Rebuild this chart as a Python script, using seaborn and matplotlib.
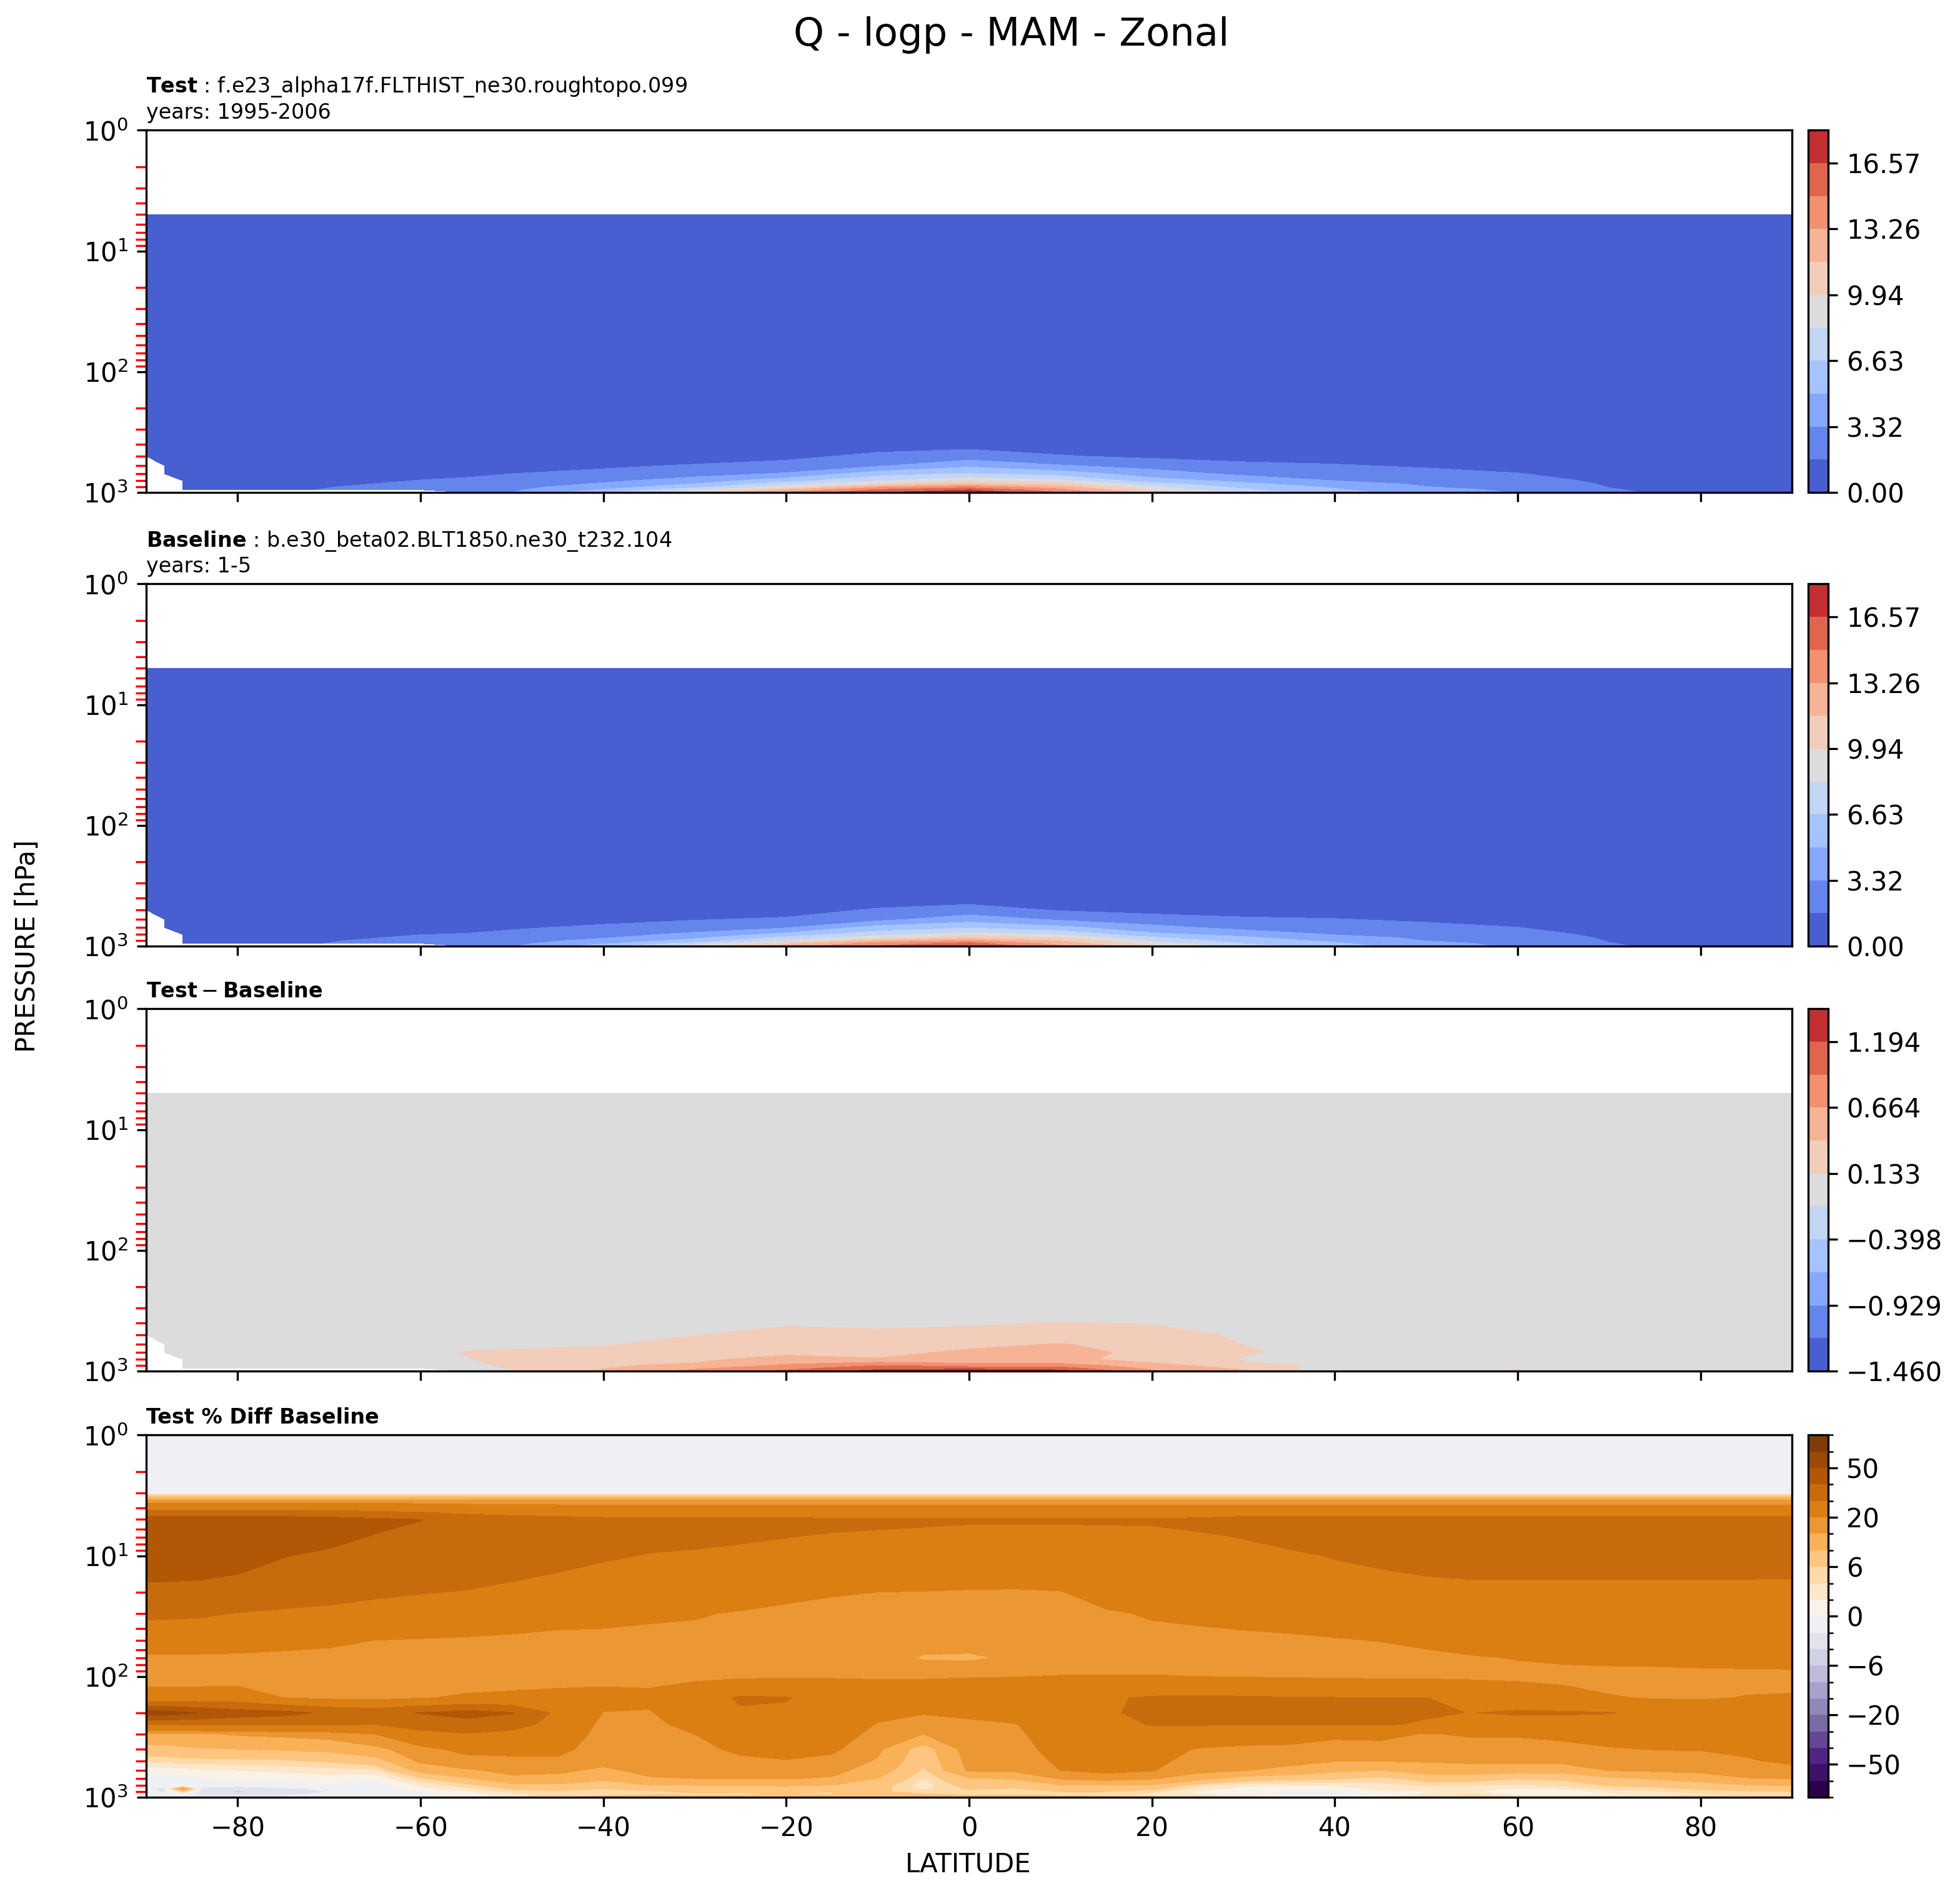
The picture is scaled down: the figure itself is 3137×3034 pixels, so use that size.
import numpy as np
import seaborn as sns
import matplotlib.pyplot as plt
from matplotlib.colors import BoundaryNorm
from matplotlib.ticker import FuncFormatter

sns.set_style("ticks", {"axes.edgecolor": "black", "xtick.color": "black", "ytick.color": "black",
                        "axes.labelcolor": "black", "text.color": "black"})
plt.rcParams["font.family"] = ["DejaVu Sans"]

TITLE = "Q - logp - MAM - Zonal"
TEST_CASE = "f.e23_alpha17f.FLTHIST_ne30.roughtopo.099"
TEST_YEARS = "1995-2006"
BASE_CASE = "b.e30_beta02.BLT1850.ne30_t232.104"
BASE_YEARS = "1-5"

nan = np.nan

# zonal mean specific humidity of the test case [g/kg], one profile per latitude
Q_LAT = [-90, -88, -86, -84, -80, -70, -60, -55, -50, -40, -30, -20, -10, 0, 10, 20, 30, 40, 50, 60, 70, 80, 90]
Q_LEV = [5, 10, 50, 100, 200, 300, 400, 500, 600, 700, 800, 850, 900, 950, 1000]
Q_TEST = {
    -90: [0.005, 0.005, 0.005, 0.005, 0.008, 0.02, 0.05, 0.10, nan, nan, nan, nan, nan, nan, nan],
    -88: [0.005, 0.005, 0.005, 0.005, 0.008, 0.02, 0.05, 0.10, 0.18, 0.30, nan, nan, nan, nan, nan],
    -86: [0.005, 0.005, 0.005, 0.005, 0.008, 0.02, 0.05, 0.11, 0.20, 0.35, 0.55, 0.65, 0.75, 0.85, nan],
    -84: [0.005, 0.005, 0.005, 0.005, 0.008, 0.02, 0.05, 0.11, 0.22, 0.40, 0.60, 0.72, 0.85, 0.95, nan],
    -80: [0.005, 0.005, 0.005, 0.005, 0.009, 0.025, 0.05, 0.12, 0.25, 0.45, 0.70, 0.85, 1.00, 1.10, nan],
    -70: [0.005, 0.005, 0.005, 0.005, 0.012, 0.04, 0.10, 0.20, 0.45, 0.80, 1.15, 1.40, 1.62, 1.75, nan],
    -60: [0.005, 0.005, 0.005, 0.005, 0.016, 0.06, 0.16, 0.30, 0.70, 1.20, 1.72, 1.95, 2.15, 2.30, nan],
    -55: [0.005, 0.005, 0.005, 0.005, 0.018, 0.075, 0.20, 0.38, 0.85, 1.45, 1.85, 2.10, 2.40, 2.60, 2.80],
    -50: [0.005, 0.005, 0.005, 0.005, 0.02, 0.09, 0.25, 0.45, 1.00, 1.66, 2.20, 2.50, 2.80, 3.05, 3.30],
    -40: [0.005, 0.005, 0.005, 0.005, 0.03, 0.14, 0.35, 0.65, 1.40, 2.10, 3.00, 3.50, 4.20, 5.10, 6.30],
    -30: [0.005, 0.005, 0.005, 0.005, 0.04, 0.20, 0.55, 0.95, 1.80, 2.70, 4.10, 5.00, 6.00, 7.90, 10.0],
    -20: [0.005, 0.005, 0.005, 0.005, 0.05, 0.30, 0.80, 1.35, 2.10, 3.50, 6.00, 7.60, 9.00, 11.8, 13.5],
    -10: [0.005, 0.005, 0.005, 0.005, 0.06, 0.40, 1.10, 1.95, 3.10, 5.90, 8.10, 9.90, 12.8, 15.1, 16.4],
    0:   [0.005, 0.005, 0.005, 0.005, 0.065, 0.45, 1.10, 2.50, 4.60, 6.80, 9.70, 11.6, 14.1, 16.5, 18.2],
    10:  [0.005, 0.005, 0.005, 0.005, 0.06, 0.40, 1.00, 1.75, 3.45, 5.90, 8.60, 10.5, 12.2, 13.7, 14.9],
    20:  [0.005, 0.005, 0.005, 0.005, 0.05, 0.30, 0.70, 1.35, 2.70, 4.10, 5.70, 7.20, 8.60, 9.70, 11.0],
    30:  [0.005, 0.005, 0.005, 0.005, 0.04, 0.22, 0.55, 1.20, 2.00, 2.95, 4.50, 5.40, 6.00, 6.90, 8.00],
    40:  [0.005, 0.005, 0.005, 0.005, 0.03, 0.17, 0.45, 1.00, 1.80, 2.70, 3.30, 3.95, 4.70, 5.20, 5.60],
    50:  [0.005, 0.005, 0.005, 0.005, 0.02, 0.12, 0.35, 0.75, 1.45, 2.20, 2.80, 3.10, 3.35, 3.80, 4.20],
    60:  [0.005, 0.005, 0.005, 0.005, 0.015, 0.09, 0.25, 0.55, 1.10, 1.72, 2.30, 2.60, 2.85, 3.05, 3.20],
    70:  [0.005, 0.005, 0.005, 0.005, 0.01, 0.06, 0.15, 0.35, 0.70, 1.05, 1.35, 1.50, 1.62, 1.75, 1.85],
    80:  [0.005, 0.005, 0.005, 0.005, 0.008, 0.04, 0.08, 0.20, 0.40, 0.65, 0.90, 1.00, 1.10, 1.20, 1.30],
    90:  [0.005, 0.005, 0.005, 0.005, 0.008, 0.03, 0.06, 0.15, 0.30, 0.50, 0.75, 0.85, 0.95, 1.05, 1.10],
}

# test minus baseline [g/kg]
Q_DIFF = {
    -90: [0, 0, 0, 0, 0, 0, 0.0, 0.0, nan, nan, nan, nan, nan, nan, nan],
    -88: [0, 0, 0, 0, 0, 0, 0.0, 0.0, 0.01, 0.01, nan, nan, nan, nan, nan],
    -86: [0, 0, 0, 0, 0, 0, 0.0, 0.0, 0.01, 0.01, 0.02, 0.02, 0.02, 0.02, nan],
    -84: [0, 0, 0, 0, 0, 0, 0.0, 0.0, 0.01, 0.01, 0.02, 0.02, 0.02, 0.02, nan],
    -80: [0, 0, 0, 0, 0, 0, 0.0, 0.0, 0.01, 0.02, 0.02, 0.03, 0.03, 0.03, nan],
    -70: [0, 0, 0, 0, 0, 0, 0.0, 0.01, 0.02, 0.03, 0.04, 0.04, 0.05, 0.05, nan],
    -60: [0, 0, 0, 0, 0, 0.005, 0.01, 0.02, 0.04, 0.07, 0.08, 0.08, 0.07, 0.06, nan],
    -55: [0, 0, 0, 0, 0, 0.01, 0.02, 0.04, 0.09, 0.145, 0.12, 0.10, 0.08, 0.06, 0.05],
    -50: [0, 0, 0, 0, 0, 0.01, 0.03, 0.05, 0.09, 0.16, 0.20, 0.19, 0.17, 0.145, 0.125],
    -40: [0, 0, 0, 0, 0, 0.015, 0.04, 0.08, 0.115, 0.20, 0.30, 0.34, 0.37, 0.39, 0.42],
    -30: [0, 0, 0, 0, 0, 0.02, 0.06, 0.125, 0.22, 0.30, 0.36, 0.39, 0.45, 0.62, 0.75],
    -20: [0, 0, 0, 0, 0, 0.03, 0.11, 0.20, 0.27, 0.35, 0.47, 0.58, 0.72, 0.85, 0.98],
    -10: [0, 0, 0, 0, 0, 0.03, 0.10, 0.17, 0.25, 0.31, 0.42, 0.68, 0.93, 1.10, 1.30],
    0:   [0, 0, 0, 0, 0, 0.03, 0.11, 0.20, 0.33, 0.45, 0.55, 0.62, 0.80, 1.10, 1.45],
    10:  [0, 0, 0, 0, 0, 0.03, 0.14, 0.25, 0.41, 0.50, 0.47, 0.60, 0.80, 1.05, 1.30],
    20:  [0, 0, 0, 0, 0, 0.03, 0.12, 0.22, 0.30, 0.32, 0.30, 0.38, 0.50, 0.60, 0.70],
    30:  [0, 0, 0, 0, 0, 0.02, 0.05, 0.10, 0.13, 0.15, 0.12, 0.14, 0.25, 0.35, 0.45],
    40:  [0, 0, 0, 0, 0, 0.01, 0.03, 0.05, 0.07, 0.08, 0.07, 0.06, 0.05, 0.0, -0.14],
    50:  [0, 0, 0, 0, 0, 0.01, 0.02, 0.04, 0.05, 0.06, 0.06, 0.06, 0.07, 0.09, 0.12],
    60:  [0, 0, 0, 0, 0, 0.005, 0.01, 0.02, 0.03, 0.04, 0.05, 0.06, 0.07, 0.09, 0.15],
    70:  [0, 0, 0, 0, 0, 0.0, 0.01, 0.01, 0.02, 0.03, 0.03, 0.04, 0.04, 0.05, 0.06],
    80:  [0, 0, 0, 0, 0, 0.0, 0.0, 0.01, 0.01, 0.02, 0.02, 0.03, 0.03, 0.03, 0.04],
    90:  [0, 0, 0, 0, 0, 0.0, 0.0, 0.01, 0.01, 0.01, 0.02, 0.02, 0.02, 0.03, 0.03],
}

# test % diff baseline, one profile per latitude
PCT_LAT = [-90, -88, -86, -84, -80, -75, -70, -65, -60, -55, -50, -45, -40, -35, -30, -25, -20, -15, -10, -5,
           0, 5, 10, 15, 20, 25, 30, 35, 40, 45, 50, 55, 60, 65, 70, 75, 80, 85, 90]
PCT_LEV = [1, 3, 3.5, 5, 7, 10, 20, 30, 50, 70, 100, 150, 200, 250, 300, 400, 500, 600, 700, 800, 850, 900, 950, 1000]
PCT_DIFF = {
    -90: [0, 0, 17, 46, 46, 45, 37.3, 31.5, 24, 19, 17, 24, 55, 30, 14, 8, 4.5, 0.5, -1, -1.5, -1.5, -1.5, -1, -0.5],
    -88: [0, 0, 17, 46, 46, 45, 37.2, 31.4, 24, 19, 17, 24, 54, 30, 14, 8.2, 4.6, 0.7, -0.8, -1.5, -2.8, -2.2, -1, -0.5],
    -86: [0, 0, 17, 46, 46, 44.8, 37, 31.2, 23.8, 19, 17, 24, 52, 30.5, 14.2, 9, 5, 1, -0.5, -1.5, 16, 5, -1, -0.5],
    -84: [0, 0, 17, 46, 46, 44.5, 36.8, 31, 23.5, 18.9, 17, 24, 49.5, 30.5, 14.5, 9.5, 5, 1.5, 0, -1.5, -2.5, -3, -2.5, -1],
    -80: [0, 0, 17, 46, 46, 43, 36, 29.7, 23, 18.8, 17, 24.5, 45, 31, 15.5, 10, 5.2, 2, 0.3, -1.5, -3, -4.5, -3, -1],
    -75: [0, 0, 17, 45, 45, 40.3, 33.5, 28.8, 22, 18.5, 17, 20, 43, 31, 16, 10.5, 5.5, 2.5, 0.5, -1, -2.5, -3, -2.5, -1],
    -70: [0, 0, 17, 44, 42, 38.5, 32, 28.5, 21, 18.5, 17, 18.5, 38, 31, 17, 11, 6.5, 3, 1, -0.5, -1.5, -2, -1.5, -0.5],
    -65: [0, 0, 17, 42, 39.5, 37, 31, 27.5, 20, 18, 16.5, 18, 36, 30, 20, 13.5, 8, 3.5, 0.2, -1, -1.5, -2, -1.5, -0.5],
    -60: [0, 0, 17, 40.2, 37.5, 35, 30.3, 26.5, 19.5, 17.5, 16.5, 19.5, 40.5, 34, 27, 18, 16, 11.5, 5.5, 2.3, 1.3, -0.2, -1, -0.5],
    -55: [0, 0, 17, 36, 35, 33.5, 29.7, 25.5, 19, 17.5, 17, 21, 44, 35, 29.5, 22, 17.5, 14.5, 9.5, 5, 3.5, 1.5, 1, 0.5],
    -50: [0, 0, 17, 34, 33.5, 32.5, 28.6, 24, 18.5, 17.5, 17.5, 21.5, 40.5, 34, 27, 22, 18.5, 16, 14.2, 8.5, 6.5, 4.5, 3, 3.5],
    -45: [0, 0, 17, 33, 32.5, 31.5, 27.5, 22.5, 18, 17.5, 18, 22, 28, 26, 24, 21.5, 19, 16, 13.5, 9, 7, 5.5, 5, 6],
    -40: [0, 0, 17, 32, 31.5, 30.5, 26.5, 22, 18, 17.5, 18.5, 22, 19.8, 18.5, 18, 17.5, 16.5, 14, 11, 7.5, 6, 4.5, 5, 7],
    -35: [0, 0, 17, 32, 31, 29.8, 25.5, 21, 18, 17.5, 18.5, 21.5, 19.5, 18.5, 18, 17.5, 17, 16.5, 14.5, 9.8, 7.5, 5.5, 6, 9],
    -30: [0, 0, 17, 31.5, 30.8, 29.5, 24, 20.5, 18, 17.5, 18.5, 26, 24, 22, 20, 18, 17, 16, 15, 9.9, 7.8, 6.5, 5.5, 9],
    -25: [0, 0, 17, 31.5, 30.5, 29, 23, 19.5, 18, 17.5, 19, 31, 29, 25, 23, 21.5, 18.5, 16.5, 15.2, 10.2, 8, 6.3, 5.5, 10],
    -20: [0, 0, 17, 31.5, 30.1, 28, 21, 19, 18, 17.5, 19.2, 30.5, 28.5, 26, 24, 21.5, 19.8, 17, 15.3, 10.3, 8.5, 6.5, 6, 10],
    -15: [0, 0, 17, 31.3, 29.5, 27, 20.3, 18.7, 17.8, 17.5, 19.5, 26, 27, 25, 23.5, 21, 18.5, 16.5, 14.5, 9.8, 8, 6, 6, 10],
    -10: [0, 0, 17, 31.2, 29, 26, 20, 18.5, 17.5, 17, 19.6, 23, 22, 19.5, 18, 16, 14.5, 12.5, 10, 7.5, 7, 6.5, 7, 10],
    -5:  [0, 0, 17, 31, 28.5, 25.5, 19.8, 18.2, 17, 14.5, 19.7, 22.5, 20.3, 18, 15, 7.5, 6.5, 5.5, 4, 2.8, 3.5, 5, 6.5, 8],
    0:   [0, 0, 17, 31, 27, 25, 19.5, 18, 17, 14.2, 19.8, 23.5, 21, 19, 18.5, 17.5, 16.5, 15.8, 9.5, 7.5, 6.4, 4.5, 5.5, 8],
    5:   [0, 0, 17, 31, 27, 24.5, 19.4, 18, 17, 15.8, 19.9, 25, 22.5, 19.7, 19, 18, 17, 16, 10.5, 7.3, 5.8, 4.2, 5.5, 7.5],
    10:  [0, 0, 17, 31, 27, 24.5, 19.8, 18.5, 17.5, 17.5, 20.2, 26, 26, 24, 23, 22, 21, 20, 15.5, 9.5, 7.2, 6, 5.5, 7],
    15:  [0, 0, 17, 31, 27.5, 25, 22, 19.4, 17.8, 17.5, 20.3, 29, 29, 27, 25, 23, 22, 21.5, 17, 9.8, 7.5, 6, 5, 6.5],
    20:  [0, 0, 17, 31, 28, 26, 23, 20.5, 18.2, 17.5, 20.3, 31, 32, 30.5, 25, 22.5, 21.5, 20.3, 15.5, 9.5, 7, 4.5, 3, 6],
    25:  [0, 0, 17, 31.5, 29.2, 27, 23.5, 21, 18.5, 17.5, 20, 31.5, 32, 30.5, 25, 19.6, 18, 16.5, 12, 4.5, 3, 1.5, 2, 5],
    30:  [0, 0, 17, 33, 30.2, 28, 24.5, 21.7, 18.7, 17.5, 19.8, 31, 31.5, 30.3, 24, 18.5, 17, 15.2, 8, 2.5, 1, 0.5, 1.5, 4],
    35:  [0, 0, 17, 33, 31.3, 29.2, 25.5, 22.3, 19, 17.5, 19.5, 30.5, 31, 30.2, 23, 18.5, 16.5, 13.5, 7, 2, 0.5, -0.3, -0.5, 0.5],
    40:  [0, 0, 17, 33, 32, 30.3, 26.5, 23, 19.6, 17.5, 19.3, 30.3, 31, 30.5, 21, 18, 15.3, 11, 6.5, 2.2, 0.8, -0.4, -0.5, 1],
    45:  [0, 0, 17, 33, 32.5, 31, 27.5, 24, 20.2, 17.8, 19, 30.2, 31, 30.5, 21.3, 18, 15.2, 10, 5, 3.2, 2.5, 1.5, -0.2, 2],
    50:  [0, 0, 17, 33, 33, 31.8, 28, 25, 21.3, 18.5, 19, 30.1, 30.5, 29.5, 19.7, 17.5, 15.5, 12, 7.5, 4.2, 3, 1.8, 2.5, 5],
    55:  [0, 0, 17, 33, 33, 32.3, 28.3, 25.6, 22, 19.6, 18.8, 28, 29.9, 27, 20.5, 18, 16, 12.5, 7.5, 4, 2.5, 2.2, 3.5, 6],
    60:  [0, 0, 17, 33, 33, 32.6, 28, 26, 22.5, 20.2, 18.5, 26, 31, 26, 20.5, 18, 16.3, 11.5, 6.2, 3.5, 1.8, 1, 1.3, 5],
    65:  [0, 0, 17, 33, 33, 33, 27.8, 26.3, 23, 20.8, 18.3, 23, 31, 25.5, 21.5, 18, 16.5, 11.8, 6.5, 4.5, 2.2, 1, 1.2, 5],
    70:  [0, 0, 17, 33, 33, 33, 27.8, 26.5, 23.3, 21.3, 18, 20.5, 30.5, 25, 22.5, 19.5, 17, 15.2, 9, 6.2, 4.5, 2.5, 1.5, 5.5],
    75:  [0, 0, 17, 33, 33, 33, 27.8, 26.5, 23.5, 21.5, 18, 19.5, 27, 24.5, 22.5, 20.2, 17.5, 15.8, 10.5, 7, 5, 3.5, 2.3, 6],
    80:  [0, 0, 17, 33, 33, 33, 27.8, 26.5, 23.5, 21.8, 18.2, 19.3, 26, 24, 22.5, 20.3, 17.8, 16.3, 12, 8, 6.5, 4.7, 3.5, 6.5],
    85:  [0, 0, 17, 33, 33, 33, 27.7, 26.5, 23.5, 22, 18.3, 20.3, 25.5, 24, 22.5, 21, 19.5, 17, 14.8, 9.5, 7.5, 5.5, 4, 6.5],
    90:  [0, 0, 17, 33, 33, 33, 27.5, 26.5, 23.5, 22, 18.5, 20.5, 25, 24, 22.5, 21.5, 21, 18.2, 15.1, 10.3, 8, 6, 4.5, 7],
}

# contour levels as labelled on the colour bars
Q_RANGE = (0.004, 18.228)
DIFF_RANGE = (-1.46, 1.459895)
PCT_LEVELS = [-100, -75, -50, -40, -30, -20, -15, -10, -6, -4, -2, 0,
              2, 4, 6, 10, 15, 20, 30, 40, 50, 75, 100]
PCT_TICKS = [-50, -20, -6, 0, 6, 20, 50]

q_test = np.column_stack([Q_TEST[lat] for lat in Q_LAT])
q_base = q_test - np.column_stack([Q_DIFF[lat] for lat in Q_LAT])
pct = np.column_stack([PCT_DIFF[lat] for lat in PCT_LAT])

q_levels = np.linspace(*Q_RANGE, 12)
diff_levels = np.linspace(*DIFF_RANGE, 12)
coolwarm = sns.color_palette("coolwarm", as_cmap=True)
puor = sns.color_palette("PuOr_r", as_cmap=True)

fig = plt.figure(figsize=(3137 / 300, 3034 / 300), dpi=300)
bottoms = [0.7403, 0.5010, 0.2769, 0.0521]
axes = [fig.add_axes([0.0746, b, 0.8397, 0.191]) for b in bottoms]
caxes = [fig.add_axes([0.9225, b, 0.0102, 0.191]) for b in bottoms]


def fmt(decimals):
    return FuncFormatter(lambda v, pos: f"{v:.{decimals}f}".replace("-", "\u2212"))


panels = [
    (Q_LAT, Q_LEV, q_test, q_levels, coolwarm, None),
    (Q_LAT, Q_LEV, q_base, q_levels, coolwarm, None),
    (Q_LAT, Q_LEV, q_test - q_base, diff_levels, coolwarm, None),
    (PCT_LAT, PCT_LEV, pct, PCT_LEVELS, puor, BoundaryNorm(PCT_LEVELS, puor.N)),
]

for i, (ax, cax, (lat, lev, field, levels, cmap, norm)) in enumerate(zip(axes, caxes, panels)):
    cf = ax.contourf(lat, lev, np.ma.masked_invalid(field), levels=levels, cmap=cmap, norm=norm)
    ax.set_yscale("log")
    ax.set_ylim(1000, 1)
    ax.set_xlim(-90, 90)
    ax.set_xticks(range(-80, 81, 20))
    ax.tick_params(axis="y", which="minor", color="red", length=4, width=0.8)
    if i < 3:
        ax.tick_params(axis="x", labelbottom=False)
    cb = fig.colorbar(cf, cax=cax)
    if i < 2:
        cb.set_ticks(levels[::2])
        cb.ax.yaxis.set_major_formatter(fmt(2))
    elif i == 2:
        cb.set_ticks(levels[::2])
        cb.ax.yaxis.set_major_formatter(fmt(3))
    else:
        cb.set_ticks(PCT_TICKS)
        cb.set_ticks(PCT_LEVELS, minor=True)

axes[0].set_title(r"$\mathbf{Test}$ : " + TEST_CASE + "\nyears: " + TEST_YEARS,
                  loc="left", fontsize=8, pad=4.5)
axes[1].set_title(r"$\mathbf{Baseline}$ : " + BASE_CASE + "\nyears: " + BASE_YEARS,
                  loc="left", fontsize=8, pad=4.5)
axes[2].set_title(r"$\mathbf{Test} - \mathbf{Baseline}$", loc="left", fontsize=8, pad=4.5)
axes[3].set_title("Test % Diff Baseline", loc="left", fontsize=8, fontweight="bold", pad=4.5)

fig.text(0.516, 0.9815, TITLE, ha="center", va="center", fontsize=15)
fig.text(0.014, 0.501, "PRESSURE [hPa]", rotation=90, ha="center", va="center", fontsize=10)
fig.text(0.494, 0.0165, "LATITUDE", ha="center", va="center", fontsize=10)

fig.savefig("out.png", dpi=300)
